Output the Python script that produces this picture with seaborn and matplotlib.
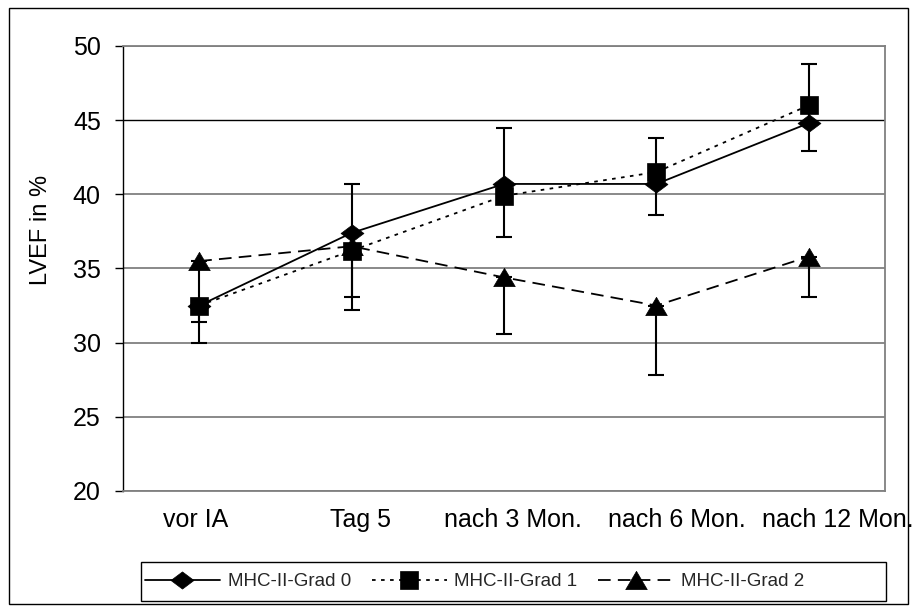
import numpy as np
import pandas as pd
import matplotlib
matplotlib.use("Agg")
import matplotlib.pyplot as plt
import matplotlib.transforms as mtransforms
from matplotlib.patches import Rectangle
from matplotlib.path import Path
from matplotlib.markers import MarkerStyle
import seaborn as sns

# --- data -------------------------------------------------------------
categories = ["vor IA", "Tag 5", "nach 3 Mon.", "nach 6 Mon.", "nach 12 Mon."]
series_names = ["MHC-II-Grad 0", "MHC-II-Grad 1", "MHC-II-Grad 2"]

grad0 = [32.5, 37.4, 40.7, 40.7, 44.8]
grad1 = [32.5, 36.2, 39.9, 41.5, 46.0]
grad2 = [35.5, 36.5, 34.4, 32.5, 35.8]

# one-sided error bars (0 = side not drawn)
grad0_err_up = [0.0, 3.3, 3.8, 3.1, 4.0]
grad1_err_low = [1.1, 3.1, 2.8, 2.9, 3.1]
grad2_err_low = [5.5, 4.3, 3.8, 4.7, 2.7]

yticks = [20, 25, 30, 35, 40, 45, 50]
ylabel = "LVEF in %"

# --- styling ----------------------------------------------------------
sns.set_theme(style="white")
plt.rcParams["font.family"] = ["Liberation Sans", "DejaVu Sans"]

W, H = 916, 612
fig = plt.figure(figsize=(W / 100, H / 100), dpi=100)
fig.patch.set_facecolor("white")
ax = fig.add_axes([123 / W, 1 - 491 / H, 762 / W, 445 / H])

pos = np.arange(len(categories))
df = pd.DataFrame({
    "pos": np.tile(pos, 3),
    "value": np.concatenate([grad0, grad1, grad2]),
    "series": np.repeat(series_names, len(categories)),
})

diamond = MarkerStyle(Path([(-1, 0), (0, 0.75), (1, 0), (0, -0.75), (-1, 0)],
                           [Path.MOVETO, Path.LINETO, Path.LINETO, Path.LINETO, Path.CLOSEPOLY]))
triangle = MarkerStyle(Path([(0, 0.85), (1, -0.85), (-1, -0.85), (0, 0.85)],
                            [Path.MOVETO, Path.LINETO, Path.LINETO, Path.CLOSEPOLY]))

markers = {series_names[0]: diamond, series_names[1]: "s", series_names[2]: triangle}
dashes = {series_names[0]: "", series_names[1]: (2, 3), series_names[2]: (7, 4)}
palette = {name: "black" for name in series_names}

sns.lineplot(data=df, x="pos", y="value", hue="series", style="series",
             markers=markers, dashes=dashes, palette=palette,
             linewidth=1.3, markersize=13, markeredgecolor="black",
             markeredgewidth=0.5, legend=False, ax=ax, zorder=3)

series_handles = list(ax.lines)
for h, ms in zip(series_handles, [16.5, 13.5, 15.5]):
    h.set_markersize(ms)

# error bars (drawn beneath the markers)
err_kw = dict(fmt="none", ecolor="black", elinewidth=1.5, capsize=5.5,
              capthick=1.5, zorder=2)
zeros = np.zeros(len(categories))
ax.errorbar(pos, grad0, yerr=[zeros, grad0_err_up], **err_kw)
ax.errorbar(pos, grad1, yerr=[grad1_err_low, zeros], **err_kw)
ax.errorbar(pos, grad2, yerr=[grad2_err_low, zeros], **err_kw)

# axes
ax.set_xlim(-0.5, len(categories) - 0.5)
ax.set_ylim(20, 50)
ax.set_yticks(yticks)
ax.set_yticklabels([str(t) for t in yticks], fontsize=18, color="black")
ax.set_xticks(pos)
ax.set_xticklabels(categories, fontsize=18, color="black")
ax.set_xlabel("")
ax.set_ylabel("")
ax.tick_params(axis="y", direction="out", length=6, width=1, color="black", pad=10, left=True)
ax.tick_params(axis="x", length=0, pad=12)

label_shift = [-4, 9, 9, 20, 29]
for lab, dx in zip(ax.get_xticklabels(), label_shift):
    lab.set_transform(lab.get_transform() +
                      mtransforms.ScaledTranslation(dx / 100, 0, fig.dpi_scale_trans))

ax.yaxis.grid(True)
ax.xaxis.grid(False)
for t, gl in zip(yticks, ax.get_ygridlines()):
    if t == 45:
        gl.set_color("black")
        gl.set_linewidth(1.0)
    else:
        gl.set_color("#808080")
        gl.set_linewidth(1.3)
ax.set_axisbelow(True)

for side in ["top", "right", "bottom"]:
    ax.spines[side].set_color("#808080")
    ax.spines[side].set_linewidth(1.3)
ax.spines["left"].set_color("black")
ax.spines["left"].set_linewidth(1.0)

fig.text(41 / W, 1 - 230 / H, ylabel, rotation=90, ha="center", va="center",
         fontsize=17, color="black")

# legend (entries placed from the left, frame drawn separately)
leg = fig.legend(series_handles, series_names, ncol=3, loc="center left",
                 bbox_to_anchor=(141 / W, 1 - 581.5 / H), borderaxespad=0,
                 borderpad=0.2, fontsize=13.5,
                 handlelength=4.0, handletextpad=0.42, columnspacing=1.1,
                 frameon=False)
fig.patches.append(Rectangle((141 / W, 1 - 601 / H), 745 / W, 39 / H,
                             transform=fig.transFigure, fill=False,
                             edgecolor="black", linewidth=1.0))

# outer frame
fig.patches.append(Rectangle((9 / W, 1 - 604 / H), 899 / W, 596 / H,
                             transform=fig.transFigure, fill=False,
                             edgecolor="black", linewidth=1.0))

fig.savefig("out.png", dpi=100)
